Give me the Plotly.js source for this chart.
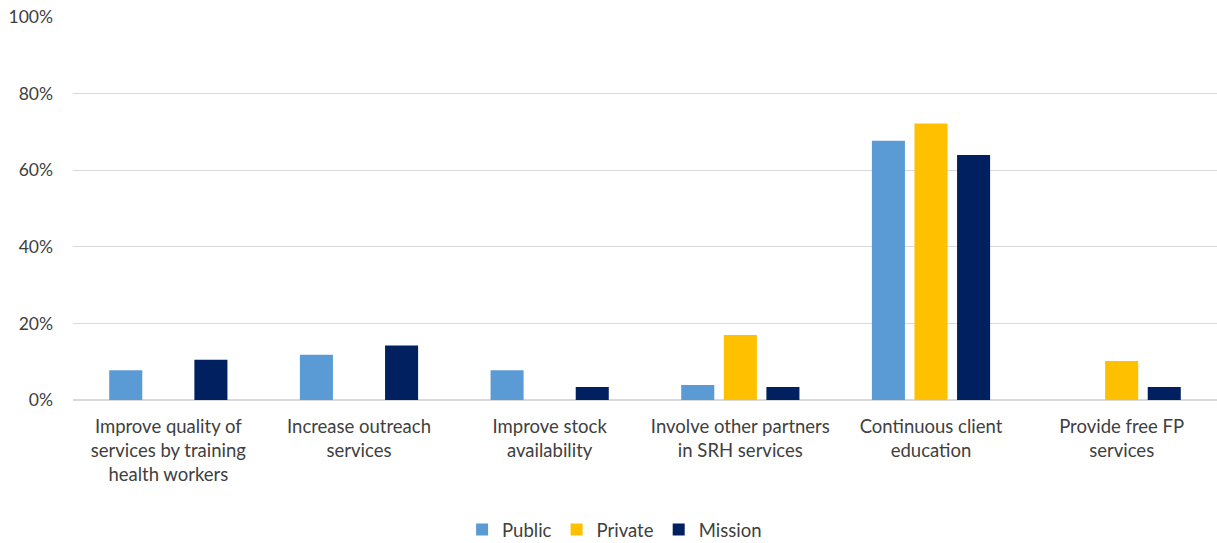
<!DOCTYPE html>
<html>
<head>
<meta charset="utf-8">
<script src="https://cdn.plot.ly/plotly-3.0.1.min.js"></script>
<style>html,body{margin:0;padding:0;background:#fff;overflow:hidden;}#chart{width:1217px;height:543px;}</style>
</head>
<body>
<div id="chart"></div>
<script>
const categories = [
  "Improve quality of<br>services by training<br>health workers",
  "Increase outreach<br>services",
  "Improve stock<br>availability",
  "Involve other partners<br>in SRH services",
  "Continuous client<br>education",
  "Provide free FP<br>services"
];
const publicVals  = [0.078, 0.118, 0.078, 0.039, 0.677, 0];
const privateVals = [0, 0, 0, 0.170, 0.722, 0.102];
const missionVals = [0.105, 0.142, 0.034, 0.034, 0.640, 0.034];
const yTickVals = [0, 0.2, 0.4, 0.6, 0.8, 1.0];
const yTickText = ["0%", "20%", "40%", "60%", "80%", "100%"];

const font = "Lato, 'Open Sans', sans-serif";
const mk = (name, y, color) => ({
  type: "bar", name: name, x: categories, y: y,
  marker: {color: color, line: {width: 0}}, hoverinfo: "y"
});
const data = [
  mk("Public", publicVals, "#5b9bd5"),
  mk("Private", privateVals, "#ffc000"),
  mk("Mission", missionVals, "#002060")
];
const layout = {
  width: 1217, height: 543,
  margin: {l: 73, r: 0, t: 17, b: 143, autoexpand: false},
  paper_bgcolor: "#fff", plot_bgcolor: "#fff",
  font: {family: font, size: 17, color: "#404040"},
  barmode: "group", bargap: 0.33, bargroupgap: 0.224,
  showlegend: true,
  legend: {orientation: "h", x: 0.505, xref: "container", xanchor: "center",
           y: 0.024, yref: "container", yanchor: "middle",
           font: {family: font, size: 18.5, color: "#404040"}, traceorder: "normal",
           itemwidth: 30},
  xaxis: {showgrid: false, showline: false, zeroline: false, ticks: "",
          ticklabelstandoff: 13, automargin: false,
          tickfont: {family: font, size: 18.5, color: "#404040"}, fixedrange: true},
  yaxis: {range: [0, 1.0], tickvals: yTickVals, ticktext: yTickText,
          showgrid: true, gridcolor: "#d9d9d9", gridwidth: 1.3,
          zeroline: true, zerolinecolor: "#d9d9d9", zerolinewidth: 1.3,
          showline: false, ticks: "", ticklabelstandoff: 19, automargin: false,
          tickfont: {family: font, size: 17.5, color: "#404040"}, fixedrange: true}
};
Plotly.newPlot("chart", data, layout, {displayModeBar: false, staticPlot: true});
</script>
</body>
</html>
